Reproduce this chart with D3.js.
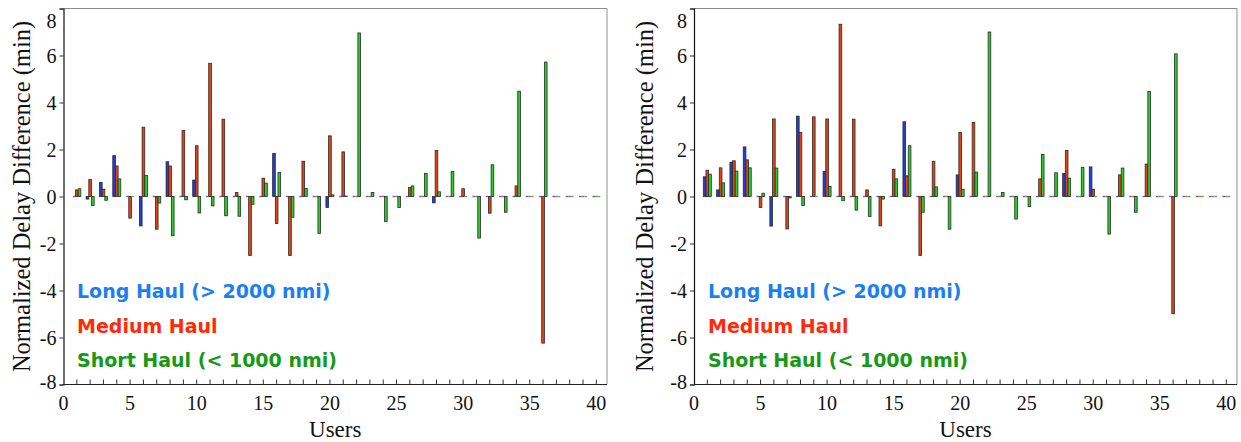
<!DOCTYPE html>
<html>
<head>
<meta charset="utf-8">
<script src="https://cdn.jsdelivr.net/npm/d3@7"></script>
<style>
  html, body { margin: 0; padding: 0; background: #fff; }
  svg { display: block; }
</style>
</head>
<body>
<svg id="chart" width="1241" height="442"></svg>
<script>
// User index on the x axis
const users = [1,2,3,4,5,6,7,8,9,10,11,12,13,14,15,16,17,18,19,20,
               21,22,23,24,25,26,27,28,29,30,31,32,33,34,35,36,37,38,39,40];

// Left panel: normalized delay difference (min) per user
const longHaulA   = [0, -0.11, 0.6, 1.74, 0, -1.25, 0, 1.48, 0, 0.7, 0, 0, 0, 0, 0, 1.83, 0, 0, 0, -0.47,
                     0, 0, 0, 0, 0, 0, 0, -0.27, 0, 0, 0, 0, 0, 0, 0, 0, 0, 0, 0, 0];
const mediumHaulA = [0.28, 0.72, 0.31, 1.3, -0.92, 2.95, -1.39, 1.3, 2.81, 2.16, 5.67, 3.29, 0.17, -2.51, 0.78, -1.15, -2.51, 1.5, 0, 2.58,
                     1.9, 0, 0, 0, 0, 0.38, 0, 1.96, 0, 0.33, 0, -0.71, 0, 0.45, 0, -6.24, 0, 0, 0, 0];
const shortHaulA  = [0.33, -0.38, -0.16, 0.75, 0, 0.89, -0.28, -1.67, -0.14, -0.7, -0.4, -0.82, -0.84, -0.33, 0.57, 1.02, -0.88, 0.34, -1.57, 0.07,
                     0.02, 6.96, 0.17, -1.06, -0.47, 0.45, 0.98, 0.2, 1.06, 0, -1.77, 1.35, -0.67, 4.48, 0, 5.72, 0, 0, 0, 0];

// Right panel
const longHaulB   = [0.84, 0.28, 1.46, 2.11, 0, -1.26, 0, 3.42, 0, 1.06, 0, 0, 0, 0, 0, 3.18, 0, 0, 0, 0.92,
                     0, 0, 0, 0, 0, 0, 0, 0.98, 0, 1.26, 0, 0, 0, 0, 0, 0, 0, 0, 0, 0];
const mediumHaulB = [1.12, 1.22, 1.52, 1.56, -0.47, 3.3, -1.38, 2.72, 3.39, 3.3, 7.33, 3.29, 0.28, -1.25, 1.16, 0.88, -2.51, 1.5, 0, 2.72,
                     3.15, 0, 0, 0, 0, 0.75, 0, 1.96, 0, 0.31, 0, 0.92, 0, 1.38, 0, -4.99, 0, 0, 0, 0];
const shortHaulB  = [0.95, 0.58, 1.08, 1.22, 0.14, 1.21, -0.06, -0.38, 0, 0.43, -0.18, -0.58, -0.85, -0.11, 0.75, 2.16, -0.67, 0.41, -1.39, 0.31,
                     1.04, 7.0, 0.17, -0.96, -0.43, 1.79, 1.01, 0.78, 1.23, 0, -1.6, 1.21, -0.67, 4.47, 0, 6.07, 0, 0, 0, 0];

const yTicks = [-8, -6, -4, -2, 0, 2, 4, 6, 8];
const xTickLabels = [0, 5, 10, 15, 20, 25, 30, 35, 40];
const legendLabels = ["Long Haul (> 2000 nmi)", "Medium Haul", "Short Haul (< 1000 nmi)"];
const xTitle = "Users";
const yTitle = "Normalized Delay Difference (min)";

const barColors = ["#1f3fd8", "#e8410e", "#22d322"];
const legendColors = ["#1a7ff0", "#ff2a0a", "#169a16"];
const barOffsets = [-0.3, -0.1, 0.1];   // left edge of each bar in the group, in user units
const barWidth = 0.2;

const panels = [
  { x0: 63.5, x1: 607,  titleX: 22,  legendX: 77,  series: [longHaulA, mediumHaulA, shortHaulA] },
  { x0: 694,  x1: 1237, titleX: 645, legendX: 708, series: [longHaulB, mediumHaulB, shortHaulB] }
];

const svg = d3.select("#chart");
const y = d3.scaleLinear().domain([-8, 8]).range([384.5, 8.5]);
const serif = "'Liberation Serif', 'Times New Roman', serif";

panels.forEach(p => {
  const x = d3.scaleLinear().domain([0, 40.8]).range([p.x0, p.x1]);
  const g = svg.append("g");

  // top and right frame
  g.append("line").attr("x1", p.x0).attr("x2", p.x1).attr("y1", y(8)).attr("y2", y(8))
    .attr("stroke", "#8c8c8c").attr("stroke-width", 1.2);
  g.append("line").attr("x1", p.x1).attr("x2", p.x1).attr("y1", y(8)).attr("y2", y(-8))
    .attr("stroke", "#a0a0a0").attr("stroke-width", 1.2);

  // bars
  p.series.forEach((vals, si) => {
    const zeroCol = d3.interpolateRgb(barColors[si], "#8a8a9a")(0.55);
    const grp = g.append("g");
    grp.selectAll("rect")
      .data(users.map((u, i) => ({ u, v: vals[i] })).filter(d => d.v !== 0))
      .join("rect")
      .attr("x", d => x(d.u + barOffsets[si]))
      .attr("width", d => x(barWidth) - x(0))
      .attr("y", d => y(Math.max(0, d.v)))
      .attr("height", d => Math.abs(y(d.v) - y(0)))
      .attr("fill", barColors[si])
      .attr("stroke", "#2a2a2a")
      .attr("stroke-width", 0.8);
    // zero-height bars read as short dashes along the zero line
    grp.selectAll("line")
      .data(users.map((u, i) => ({ u, v: vals[i] })).filter(d => d.v === 0))
      .join("line")
      .attr("x1", d => x(d.u + barOffsets[si]))
      .attr("x2", d => x(d.u + barOffsets[si] + barWidth))
      .attr("y1", y(0)).attr("y2", y(0))
      .attr("stroke", zeroCol)
      .attr("stroke-width", 1.4);
  });

  // y axis (plain hyphen for negatives)
  const yAxis = g.append("g").attr("transform", `translate(${p.x0},0)`)
    .call(d3.axisLeft(y).tickValues(yTicks).tickSize(4).tickPadding(3).tickFormat(d => String(d)));
  yAxis.select(".domain").attr("stroke", "#111").attr("stroke-width", 1.2);
  yAxis.selectAll(".tick line").attr("stroke", "#333");
  yAxis.selectAll(".tick text")
    .attr("font-family", serif).attr("font-size", 20).attr("fill", "#111")
    .attr("dy", d => d === 8 ? "0.95em" : d === -8 ? "0.2em" : "0.34em");

  // x axis: minor ticks at every user, labels every 5
  const xAxis = g.append("g").attr("transform", `translate(0,${y(-8)})`);
  xAxis.append("line").attr("x1", p.x0).attr("x2", p.x1).attr("y1", 0).attr("y2", 0)
    .attr("stroke", "#222").attr("stroke-width", 1.2);
  xAxis.selectAll("line.tk").data(users).join("line").attr("class", "tk")
    .attr("x1", d => x(d)).attr("x2", d => x(d)).attr("y1", 0).attr("y2", -5)
    .attr("stroke", "#333").attr("stroke-width", 1);
  xAxis.selectAll("text").data(xTickLabels).join("text")
    .attr("x", d => x(d)).attr("y", 25)
    .attr("text-anchor", "middle")
    .attr("font-family", serif).attr("font-size", 20).attr("fill", "#111")
    .text(d => d);

  // axis titles
  g.append("text")
    .attr("x", (p.x0 + p.x1) / 2).attr("y", 437)
    .attr("text-anchor", "middle")
    .attr("font-family", serif).attr("font-size", 23).attr("fill", "#111")
    .text(xTitle);
  g.append("text")
    .attr("transform", `translate(${p.titleX + 8},${y(0)}) rotate(-90)`)
    .attr("text-anchor", "middle")
    .attr("font-family", serif).attr("font-size", 24.5).attr("fill", "#111")
    .text(yTitle);

  // legend
  const legendY = [298, 333, 367];
  legendLabels.forEach((lab, i) => {
    g.append("text")
      .attr("x", p.legendX).attr("y", legendY[i])
      .attr("font-family", "'DejaVu Sans', Verdana, sans-serif")
      .attr("font-weight", "bold").attr("font-size", 19)
      .attr("fill", legendColors[i])
      .text(lab);
  });
});
</script>
</body>
</html>
